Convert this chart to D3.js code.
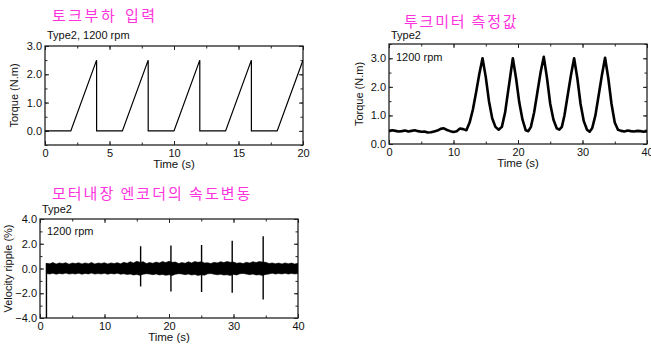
<!DOCTYPE html>
<html>
<head>
<meta charset="utf-8">
<script src="https://cdn.jsdelivr.net/npm/d3@7"></script>
<style>
  body { margin: 0; background: #fff; }
  svg { display: block; font-family: "Liberation Sans", Arial, sans-serif; }
  .title { font-family: "Noto Sans CJK KR", sans-serif; fill: #ff33dd; font-size: 15px; }
  .tick text { font-size: 11px; fill: #111; }
</style>
</head>
<body>
<svg id="chart" width="651" height="344"></svg>
<script>
// --- panel 1: torque load input (sawtooth) ---
const loadTime = [0, 2, 4, 4, 6, 8, 8, 10, 12, 12, 14, 16, 16, 18, 20];
const loadTorque = [0, 0, 2.5, 0, 0, 2.5, 0, 0, 2.5, 0, 0, 2.5, 0, 0, 2.5];

// --- panel 2: torque meter reading ---
const meterTime = [0, 0.5, 1, 1.5, 2, 2.5, 3, 3.5, 4, 4.5, 5, 5.5, 6, 6.5, 7, 7.5, 8, 8.5, 9, 9.5, 10, 10.5, 11, 11.5, 12,
  12.5, 13, 13.5, 14, 14.5,
  15, 15.5, 16, 16.5, 17, 17.5, 18, 18.5, 19.2, 19.7, 20.2, 20.7, 21.2, 21.6, 22, 22.5, 23, 23.5, 24,
  24.5, 25, 25.5, 26, 26.4, 26.8, 27.2, 27.7, 28.2, 28.7, 29.2, 29.7, 30.2, 30.7, 31.1, 31.5, 32, 32.5,
  33, 33.5, 34, 34.5, 35, 35.5, 36, 36.5, 37, 37.5, 38, 38.5, 39, 39.5, 40];
const meterTorque = [0.45, 0.48, 0.46, 0.44, 0.45, 0.47, 0.44, 0.46, 0.48, 0.45, 0.43, 0.44, 0.40, 0.41, 0.44, 0.47, 0.53, 0.55, 0.49, 0.45, 0.42, 0.45, 0.54, 0.52, 0.48,
  0.75, 1.2, 1.8, 2.45, 3.0,
  2.35, 1.5, 0.9, 0.6, 0.5, 0.6, 1.1, 1.9, 3.0, 2.3, 1.45, 0.85, 0.48, 0.45, 0.6, 1.1, 1.8, 2.5, 3.05,
  2.3, 1.4, 0.85, 0.55, 0.5, 0.6, 1.0, 1.7, 2.4, 3.0, 2.3, 1.4, 0.8, 0.5, 0.43, 0.55, 1.0, 1.7,
  2.4, 3.02, 2.3, 1.4, 0.75, 0.5, 0.46, 0.44, 0.47, 0.45, 0.44, 0.46, 0.45, 0.43, 0.45];

// --- panel 3: encoder velocity ripple (envelope every 0.5 s from 1 s) ---
const rippleStart = 1, rippleStep = 0.5;
const rippleUpper = [0.42, 0.38, 0.48, 0.36, 0.45, 0.40, 0.47, 0.35, 0.44, 0.40, 0.46, 0.37, 0.45, 0.39, 0.48, 0.36,
  0.44, 0.41, 0.46, 0.37, 0.45, 0.40, 0.47, 0.38, 0.50, 0.42, 0.55, 0.45, 0.58, 0.50, 0.55, 0.40, 0.48, 0.42,
  0.52, 0.45, 0.56, 0.48, 0.58, 0.50, 0.52, 0.40, 0.48, 0.42, 0.54, 0.45, 0.56, 0.50, 0.55, 0.45, 0.46, 0.40,
  0.50, 0.45, 0.55, 0.48, 0.56, 0.50, 0.52, 0.42, 0.46, 0.40, 0.50, 0.44, 0.55, 0.48, 0.56, 0.52, 0.50, 0.40,
  0.45, 0.38, 0.44, 0.37, 0.45, 0.38, 0.44, 0.36, 0.42];
const rippleLower = [-0.40, -0.45, -0.38, -0.46, -0.40, -0.44, -0.37, -0.45, -0.41, -0.44, -0.38, -0.46, -0.40, -0.44, -0.37, -0.45,
  -0.41, -0.44, -0.39, -0.46, -0.40, -0.44, -0.38, -0.46, -0.42, -0.48, -0.45, -0.52, -0.48, -0.55, -0.46, -0.42, -0.45, -0.50,
  -0.44, -0.52, -0.48, -0.55, -0.50, -0.56, -0.46, -0.42, -0.44, -0.50, -0.45, -0.52, -0.48, -0.56, -0.50, -0.54, -0.43, -0.41,
  -0.46, -0.51, -0.46, -0.53, -0.50, -0.56, -0.48, -0.52, -0.42, -0.40, -0.45, -0.50, -0.45, -0.52, -0.50, -0.56, -0.48, -0.44,
  -0.38, -0.45, -0.40, -0.44, -0.39, -0.45, -0.40, -0.44, -0.41];
const spikeTime = [15.6, 20.3, 25.05, 29.8, 34.6];
const spikeHigh = [1.8, 1.85, 1.9, 2.25, 2.6];
const spikeLow = [-1.45, -1.85, -1.9, -1.95, -2.5];
const onsetTime = [1.0, 1.0];
const onsetValue = [-4.5, 0.42];

const svg = d3.select('#chart');

function drawPanel(p) {
  const x = d3.scaleLinear().domain(p.xDomain).range([p.left, p.right]);
  const y = d3.scaleLinear().domain(p.yDomain).range([p.bottom, p.top]);
  const g = svg.append('g');
  const clipId = 'clip' + p.id;
  g.append('clipPath').attr('id', clipId).append('rect')
    .attr('x', p.left).attr('y', p.top)
    .attr('width', p.right - p.left).attr('height', p.bottom - p.top);

  const xMinor = d3.range(p.xDomain[0], p.xDomain[1] + 1e-9, p.xMinor);
  const yMinor = d3.range(p.yDomain[0], p.yDomain[1] + 1e-9, p.yMinor);

  // minor ticks on all sides
  const minor = [
    [d3.axisBottom(x).tickValues(xMinor), `translate(0,${p.bottom})`],
    [d3.axisTop(x).tickValues(xMinor), `translate(0,${p.top})`],
    [d3.axisLeft(y).tickValues(yMinor), `translate(${p.left},0)`],
    [d3.axisRight(y).tickValues(yMinor), `translate(${p.right},0)`]
  ];
  minor.forEach(([ax, tr]) => {
    g.append('g').attr('transform', tr)
      .call(ax.tickSize(-2.5).tickFormat(''))
      .call(s => s.select('.domain').remove());
  });
  // major ticks with labels on bottom/left
  g.append('g').attr('transform', `translate(0,${p.bottom})`)
    .call(d3.axisBottom(x).tickValues(p.xTicks).tickSize(-4).tickPadding(4).tickFormat(d3.format('d')))
    .call(s => s.select('.domain').remove());
  g.append('g').attr('transform', `translate(${p.left},0)`)
    .call(d3.axisLeft(y).tickValues(p.yTicks).tickSize(-4).tickPadding(3).tickFormat(d3.format('.1f')))
    .call(s => s.select('.domain').remove());
  g.append('g').attr('transform', `translate(0,${p.top})`)
    .call(d3.axisTop(x).tickValues(p.xTicks).tickSize(-4).tickFormat(''))
    .call(s => s.select('.domain').remove());
  g.append('g').attr('transform', `translate(${p.right},0)`)
    .call(d3.axisRight(y).tickValues(p.yTicks).tickSize(-4).tickFormat(''))
    .call(s => s.select('.domain').remove());
  g.selectAll('.tick line').attr('stroke', '#222');

  g.append('rect')
    .attr('x', p.left).attr('y', p.top)
    .attr('width', p.right - p.left).attr('height', p.bottom - p.top)
    .attr('fill', 'none').attr('stroke', '#222').attr('stroke-width', 1.3);

  // labels
  g.append('text').attr('class', 'title')
    .attr('x', p.titleX).attr('y', p.titleY)
    .attr('letter-spacing', p.titleSpacing)
    .attr('word-spacing', p.titleWordSpacing)
    .text(p.title);
  p.notes.forEach(n => {
    g.append('text').attr('x', n[0]).attr('y', n[1])
      .style('font-size', '11px').attr('fill', '#111').text(n[2]);
  });
  g.append('text').attr('x', (p.left + p.right) / 2).attr('y', p.bottom + 23)
    .attr('text-anchor', 'middle').style('font-size', '11.5px').attr('fill', '#111')
    .text('Time (s)');
  g.append('text')
    .attr('transform', `translate(${p.yLabelX},${(p.top + p.bottom) / 2}) rotate(-90)`)
    .attr('text-anchor', 'middle').style('font-size', '11px').attr('fill', '#111')
    .text(p.yLabel);

  const plot = g.append('g').attr('clip-path', `url(#${clipId})`);
  p.draw(plot, x, y);
}

drawPanel({
  id: 1, left: 45, right: 303, top: 46, bottom: 145,
  xDomain: [0, 20], yDomain: [-0.5, 3.0],
  xTicks: [0, 5, 10, 15, 20], xMinor: 2.5,
  yTicks: [0, 1, 2, 3], yMinor: 0.5,
  title: '토크부하 입력', titleX: 52, titleY: 21, titleSpacing: 2.5, titleWordSpacing: 2,
  notes: [[47, 39, 'Type2, 1200 rpm']],
  yLabel: 'Torque (N.m)', yLabelX: 18,
  draw: (plot, x, y) => {
    plot.append('path')
      .datum(loadTime.map((t, i) => [t, loadTorque[i]]))
      .attr('fill', 'none').attr('stroke', '#000').attr('stroke-width', 1.2)
      .attr('d', d3.line().x(d => x(d[0])).y(d => y(d[1])));
  }
});

drawPanel({
  id: 2, left: 389, right: 647, top: 44, bottom: 144,
  xDomain: [0, 40], yDomain: [0, 3.5],
  xTicks: [0, 10, 20, 30, 40], xMinor: 5,
  yTicks: [0, 1, 2, 3], yMinor: 0.5,
  title: '투크미터 측정값', titleX: 404, titleY: 27, titleSpacing: 1.8, titleWordSpacing: 0,
  notes: [[391, 39, 'Type2'], [396, 61, '1200 rpm']],
  yLabel: 'Torque (N.m)', yLabelX: 363,
  draw: (plot, x, y) => {
    plot.append('path')
      .datum(meterTime.map((t, i) => [t, meterTorque[i]]))
      .attr('fill', 'none').attr('stroke', '#000').attr('stroke-width', 2.6)
      .attr('stroke-linejoin', 'round')
      .attr('d', d3.line().x(d => x(d[0])).y(d => y(d[1])));
  }
});

drawPanel({
  id: 3, left: 40, right: 298, top: 219, bottom: 318,
  xDomain: [0, 40], yDomain: [-4, 4],
  xTicks: [0, 10, 20, 30, 40], xMinor: 5,
  yTicks: [-4, -2, 0, 2, 4], yMinor: 1,
  title: '모터내장 엔코더의 속도변동', titleX: 52, titleY: 199, titleSpacing: 2, titleWordSpacing: 0,
  notes: [[42, 213, 'Type2'], [47, 235, '1200 rpm']],
  yLabel: 'Velocity ripple (%)', yLabelX: 12,
  draw: (plot, x, y) => {
    const env = rippleUpper.map((u, i) => ({ t: rippleStart + i * rippleStep, u, l: rippleLower[i] }));
    plot.append('path').datum(env)
      .attr('fill', '#000').attr('stroke', '#000').attr('stroke-width', 0.6)
      .attr('d', d3.area().x(d => x(d.t)).y0(d => y(d.l)).y1(d => y(d.u)));
    plot.selectAll('line.spike').data(spikeTime).join('line').attr('class', 'spike')
      .attr('x1', d => x(d)).attr('x2', d => x(d))
      .attr('y1', (d, i) => y(spikeHigh[i])).attr('y2', (d, i) => y(spikeLow[i]))
      .attr('stroke', '#000').attr('stroke-width', 1.4);
    plot.append('path')
      .datum(onsetTime.map((t, i) => [t, onsetValue[i]]))
      .attr('fill', 'none').attr('stroke', '#000').attr('stroke-width', 1.4)
      .attr('d', d3.line().x(d => x(d[0])).y(d => y(d[1])));
  }
});
</script>
</body>
</html>
